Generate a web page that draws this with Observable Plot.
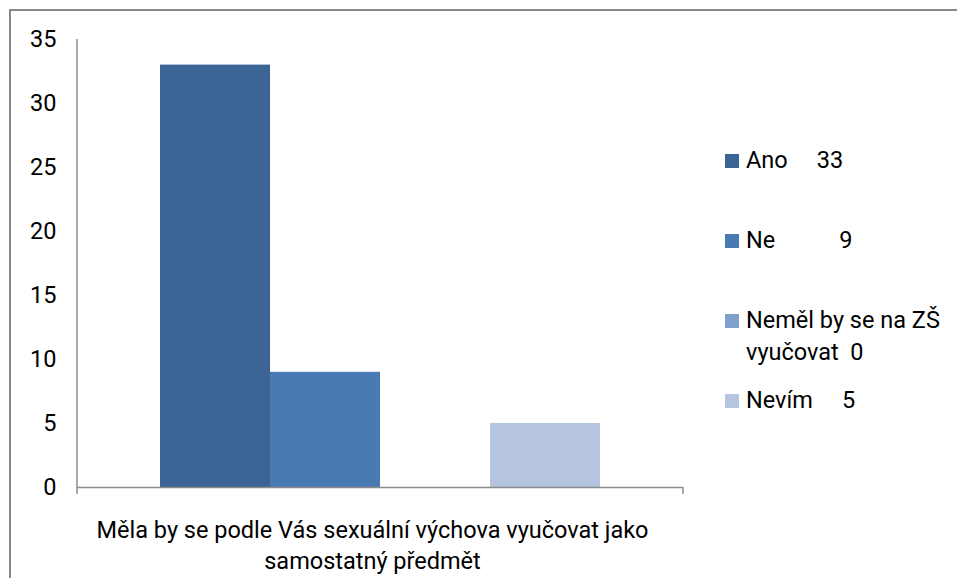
<!DOCTYPE html>
<html>
<head>
<meta charset="utf-8">
<script src="https://cdn.jsdelivr.net/npm/d3@7"></script>
<script src="https://cdn.jsdelivr.net/npm/@observablehq/plot@0.6"></script>
<style>
  html, body { margin: 0; padding: 0; background: #fff; overflow: hidden; }
  #wrap { position: relative; width: 957px; height: 578px; font-family: Roboto, "Open Sans", sans-serif; }
  #frame { position: absolute; left: 9px; top: 9px; width: 960px; height: 600px; border: 2px solid #888888; box-sizing: border-box; }
  #chart { position: absolute; left: 0; top: 0; }
  #legend { position: absolute; left: 724px; top: 0; font-size: 23.5px; color: #000; }
  .item { position: absolute; left: 0; width: 240px; white-space: pre-wrap; line-height: 32px; }
  .sw { position: absolute; left: 1px; width: 14px; height: 14px; top: 10px; }
  .lab { position: absolute; left: 22px; width: 210px; }
</style>
</head>
<body>
<div id="wrap">
  <div id="frame"></div>
  <div id="chart"></div>
  <div id="legend"></div>
</div>
<script>
const category = "Měla by se podle Vás sexuální výchova vyučovat jako samostatný předmět";
const categoryLines = ["Měla by se podle Vás sexuální výchova vyučovat jako", "samostatný předmět"];
const series = ["Ano", "Ne", "Neměl by se na ZŠ vyučovat", "Nevím"];
const values = [33, 9, 0, 5];
const colors = ["#3c6494", "#4a7ab3", "#7f9fcc", "#b6c5df"];
const legendLabels = ["Ano     33", "Ne           9", "Neměl by se na ZŠ vyučovat  0", "Nevím     5"];
const yTicks = [0, 5, 10, 15, 20, 25, 30, 35];

const data = series.map((s, i) => ({series: s, value: values[i]}));

const W = 957, H = 578;
const mL = 77, mT = 39, mR = 274, mB = 91;
const FS = 23.5;

const chart = Plot.plot({
  width: W,
  height: H,
  marginLeft: mL,
  marginTop: mT,
  marginRight: mR,
  marginBottom: mB,
  style: {fontFamily: "Roboto, 'Open Sans', sans-serif", fontSize: FS + "px", color: "#000", background: "transparent"},
  x: {type: "band", domain: series, paddingInner: 0, paddingOuter: 0.7545, axis: null},
  y: {domain: [0, 35], ticks: yTicks, label: null},
  color: {domain: series, range: colors},
  marks: [
    Plot.gridY(yTicks, {stroke: "#8c8c8c", strokeOpacity: 1, strokeWidth: 1.5, x1: mL - 7}),
    Plot.barY(data, {x: "series", y: "value", fill: "series"}),
    Plot.axisY(yTicks, {tickSize: 0, tickPadding: 21, fontSize: FS, fill: "#000", label: null}),
    Plot.ruleY([0], {stroke: "#8c8c8c", strokeWidth: 1.5}),
    Plot.text([categoryLines.join("\n")], {frameAnchor: "bottom", lineAnchor: "top", dy: 29, dx: -8, fontSize: FS, lineHeight: 1.3, fill: "#000", textAnchor: "middle"})
  ]
});

// axis lines and end ticks
const ys = chart.scale("y");
const svg = d3.select(chart);
const g = svg.append("g").attr("stroke", "#8c8c8c").attr("stroke-width", 1.5);
const x0 = mL, x1 = W - mR;
const yTop = ys.apply(35), yBot = ys.apply(0);
g.append("line").attr("x1", x0).attr("x2", x0).attr("y1", yTop).attr("y2", yBot + 7);
g.append("line").attr("x1", x1).attr("x2", x1).attr("y1", yBot).attr("y2", yBot + 7);

document.getElementById("chart").appendChild(chart);

// legend
const legend = document.getElementById("legend");
const tops = [144, 224, 304, 384];
series.forEach((s, i) => {
  const it = document.createElement("div");
  it.className = "item";
  it.style.top = tops[i] + "px";
  const sw = document.createElement("div");
  sw.className = "sw";
  sw.style.background = colors[i];
  const lab = document.createElement("div");
  lab.className = "lab";
  lab.textContent = legendLabels[i];
  it.appendChild(sw);
  it.appendChild(lab);
  legend.appendChild(it);
});
</script>
</body>
</html>
